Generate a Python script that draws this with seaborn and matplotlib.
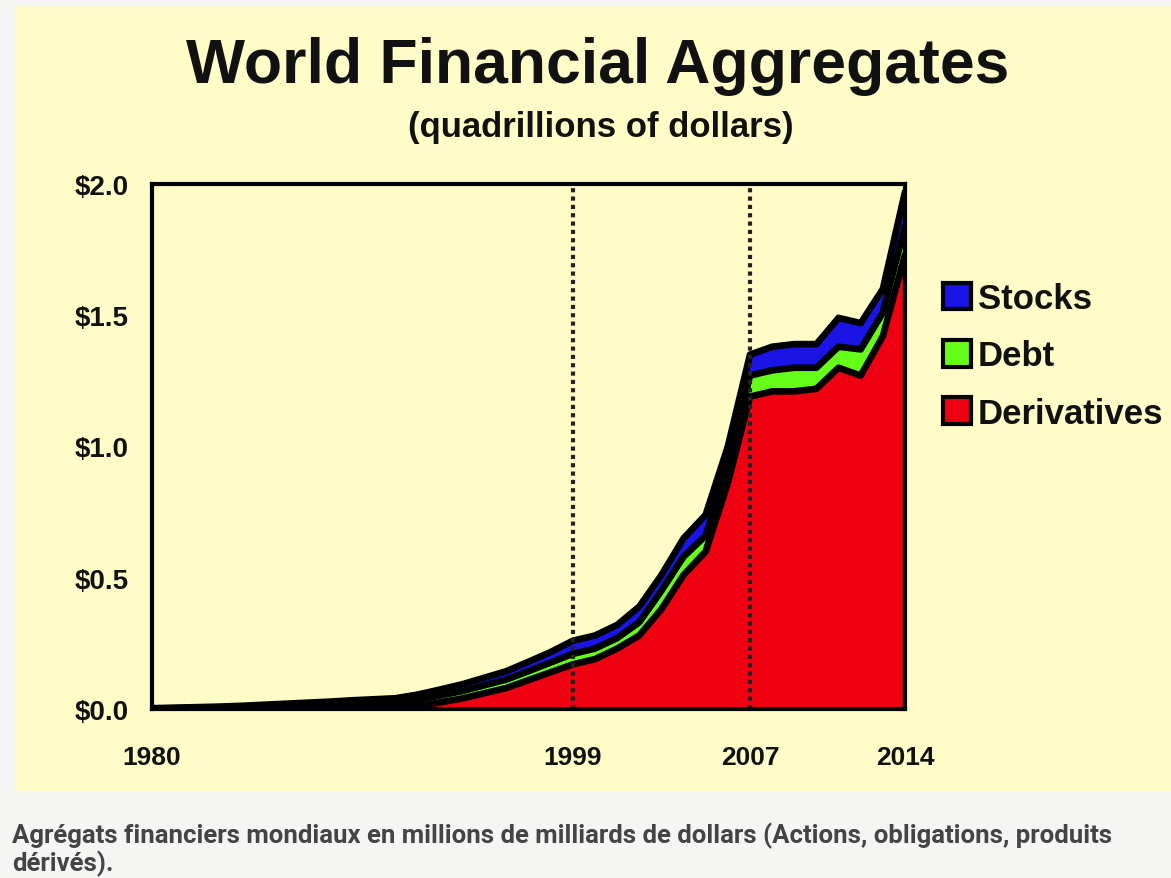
import numpy as np
import pandas as pd
import matplotlib
matplotlib.use("Agg")
import matplotlib.pyplot as plt
from matplotlib.patches import Rectangle, Patch
import seaborn as sns

# values, quadrillions of dollars
years = list(range(1980, 2015))
derivatives = [0, 0, 0, 0, 0, 0, 0, 0, 0, 0, 0, 0,
               0.01, 0.025, 0.04, 0.06, 0.08, 0.11, 0.14, 0.17,
               0.19, 0.23, 0.28, 0.38, 0.51, 0.60, 0.86, 1.19,
               1.21, 1.21, 1.22, 1.30, 1.27, 1.42, 1.73]
debt = [0.002, 0.003, 0.004, 0.005, 0.007, 0.009, 0.011, 0.013, 0.015, 0.018,
        0.020, 0.022, 0.024, 0.026, 0.028, 0.030, 0.032, 0.034, 0.037, 0.04,
        0.04, 0.04, 0.05, 0.07, 0.07, 0.06, 0.06, 0.08, 0.08, 0.09, 0.08,
        0.08, 0.10, 0.09, 0.11]
stocks = [0.001, 0.002, 0.003, 0.004, 0.005, 0.007, 0.009, 0.011, 0.013, 0.015,
          0.017, 0.019, 0.021, 0.023, 0.026, 0.029, 0.032, 0.036, 0.04, 0.05,
          0.05, 0.05, 0.06, 0.06, 0.07, 0.08, 0.08, 0.08, 0.09, 0.09, 0.09,
          0.11, 0.10, 0.09, 0.13]

x_ticks = [1980, 1999, 2007, 2014]
y_ticks = [0.0, 0.5, 1.0, 1.5, 2.0]
y_labels = ['$0.0', '$0.5', '$1.0', '$1.5', '$2.0']
marker_years = [1999, 2007]

series_names = ['Stocks', 'Debt', 'Derivatives']
colors = {'Stocks': '#1a14e6', 'Debt': '#66ff1a', 'Derivatives': '#ee0010'}

caption = ("Agrégats financiers mondiaux en millions de milliards de dollars (Actions, obligations, produits\n"
           "dérivés).")

df = pd.DataFrame({'year': years, 'Derivatives': derivatives, 'Debt': debt, 'Stocks': stocks})
df['top_red'] = df['Derivatives']
df['top_green'] = df['top_red'] + df['Debt']
df['top_blue'] = df['top_green'] + df['Stocks']

sns.set_style('white')
plt.rcParams['font.family'] = ['Liberation Sans', 'DejaVu Sans']
plt.rcParams['font.weight'] = 'bold'

W, H = 1171, 879
fig = plt.figure(figsize=(W / 100, H / 100), dpi=100, facecolor='#f5f5f3')
bg = '#fffcc8'
fig.patches.append(Rectangle((15 / W, 1 - 792 / H), 1 - 15 / W, (792 - 7) / H,
                             transform=fig.transFigure, facecolor=bg, edgecolor='none', zorder=-10))

ax = fig.add_axes([152 / W, 1 - 710 / H, 753 / W, 525 / H])
ax.set_zorder(2)
ax.set_facecolor(bg)

ax.fill_between(df['year'], 0, df['top_red'], color=colors['Derivatives'], lw=0, zorder=2)
ax.fill_between(df['year'], df['top_red'], df['top_green'], color=colors['Debt'], lw=0, zorder=2)
ax.fill_between(df['year'], df['top_green'], df['top_blue'], color=colors['Stocks'], lw=0, zorder=2)
for col in ['top_red', 'top_green', 'top_blue']:
    sns.lineplot(data=df, x='year', y=col, ax=ax, color='black', lw=4.8, zorder=3,
                 solid_joinstyle='round', solid_capstyle='round')

for yr in marker_years:
    ax.axvline(yr, color='#222222', ls=(0, (1, 1)), lw=3.0, zorder=4)

ax.set_xlim(1980, 2014)
ax.set_ylim(0, 2.0)
ax.set_xticks(x_ticks)
ax.set_xticklabels([str(t) for t in x_ticks], fontsize=19, fontweight='bold', color='#111111')
ax.set_yticks(y_ticks)
ax.set_yticklabels(y_labels, fontsize=20, fontweight='bold', color='#111111')
ax.tick_params(axis='x', length=0, pad=26)
ax.tick_params(axis='y', length=0, pad=17)
ax.set_xlabel('')
ax.set_ylabel('')
for s in ax.spines.values():
    s.set_visible(True)
    s.set_color('black')
    s.set_linewidth(3.0)
    s.set_zorder(5)

fig.text(598 / W, 1 - 66 / H, 'World Financial Aggregates', ha='center', va='center',
         fontsize=45, fontweight='bold', color='#111111')
fig.text(601 / W, 1 - 128 / H, '(quadrillions of dollars)', ha='center', va='center',
         fontsize=25, fontweight='bold', color='#111111')

handles = [Patch(facecolor=colors[n], edgecolor='black', linewidth=3) for n in series_names]
fig.legend(handles, series_names, loc='upper left', bbox_to_anchor=(943 / W, 1 - 283 / H),
           frameon=False, handlelength=0.8, handleheight=0.8, labelcolor='#111111',
           handletextpad=0.2, labelspacing=0.7, borderpad=0, borderaxespad=0,
           prop={'weight': 'bold', 'size': 25})

fig.text(12 / W, 1 - 850 / H, caption, ha='left', va='center', fontsize=18.5,
         fontweight='bold', color='#444444', linespacing=1.1,
         family=['Roboto', 'DejaVu Sans'])

fig.savefig('out.png', dpi=100, facecolor=fig.get_facecolor())
